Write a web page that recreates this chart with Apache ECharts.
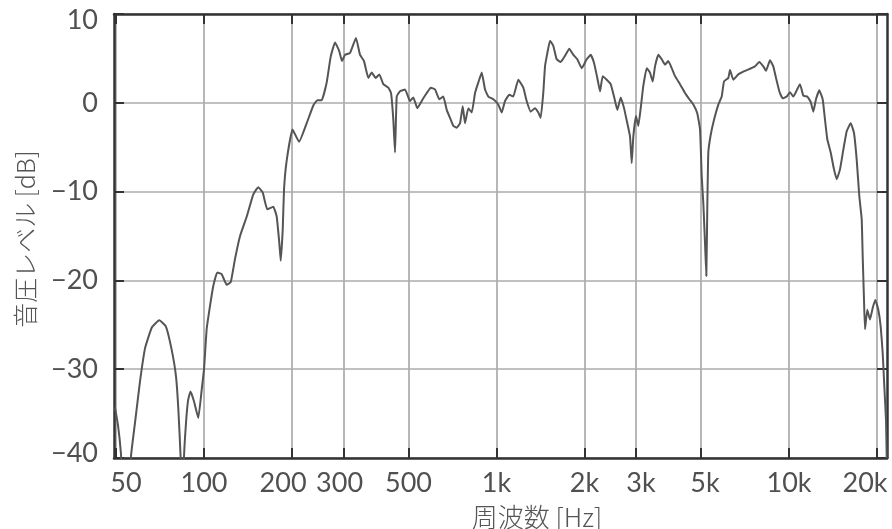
<!DOCTYPE html>
<html>
<head>
<meta charset="utf-8">
<script src="https://cdn.jsdelivr.net/npm/echarts@6/dist/echarts.min.js"></script>
<style>
html,body{margin:0;padding:0;background:#fff;}
#chart{width:892px;height:529px;}
</style>
</head>
<body>
<div id="chart"></div>
<script>
// Frequency (Hz) and level (dB)
const freqHz = [49.6,50.8,52.0,52.9,54.1,55.4,56.2,58.1,60.4,62.9,66.3,70.3,74.1,77.5,80.2,81.7,83.2,84.4,85.4,86.8,88.2,89.9,92.4,95.6,98.2,100,102.1,104.8,107.6,111.0,114.9,119.6,123.4,127.6,132.8,140.0,147.4,153.3,158.7,164.6,172.5,177.2,180.9,182.9,185.8,187.7,191.7,200.7,211.3,224.4,236.4,244.0,252.6,262.7,271.1,280.5,290.1,296.3,303.4,315.6,330.8,341.5,352.4,364.5,374.4,386.4,397.5,410.2,426.7,435.9,443.8,449.8,455.8,467.8,486.6,506.2,519.5,536.1,559.4,577.4,595.8,616.4,637.6,657.9,675.8,697.4,711.9,731.2,750.4,766.5,780.5,801.1,822.8,844.5,866.7,890.2,913.7,937.7,975.1,1014,1042,1069,1106,1141,1187,1235,1268,1309,1354,1390,1416,1445,1465,1492,1524,1564,1606,1658,1715,1774,1831,1889,1956,2034,2099,2154,2211,2259,2307,2381,2457,2522,2588,2659,2729,2800,2861,2899,2936,2999,3054,3112,3176,3263,3348,3420,3483,3575,3672,3768,3867,3972,4077,4240,4411,4563,4709,4859,4964,5031,5094,5163,5216,5257,5299,5400,5542,5733,5888,5995,6201,6285,6450,6709,6978,7315,7651,7914,8168,8344,8611,8837,9027,9265,9516,9821,10079,10344,10625,10904,11191,11549,11863,12108,12368,12693,13037,13276,13519,13886,14252,14558,14941,15334,15750,16254,16681,17039,17392,17724,17864,18048,18190,18522,18920,19327,19727,20198,20583,20910,21175,21460,21580];
const levelDb = [-34.3,-36.3,-39.5,-44,-55,-48,-40,-36.0,-31.4,-27.6,-25.3,-24.5,-25.2,-27.8,-30.8,-34.5,-40,-50,-40,-36,-33.5,-32.5,-33.6,-35.5,-32.3,-30.0,-25.5,-22.9,-20.6,-19.1,-19.3,-20.5,-20.2,-17.6,-15.0,-12.8,-10.3,-9.5,-10.1,-12.0,-11.7,-12.8,-15.8,-17.8,-14.3,-9.8,-6.5,-3.0,-4.4,-2.3,-0.3,0.3,0.3,2.3,5.2,6.8,5.8,4.7,5.4,5.6,7.3,5.4,4.7,2.8,3.4,2.8,3.2,2.1,1.7,1.1,-1.9,-5.6,0.7,1.3,1.5,0.2,0.6,-0.6,0.4,1.1,1.7,1.5,0.4,0.7,-0.8,-1.9,-2.6,-2.8,-2.3,-0.4,-2.3,-0.6,-1.1,1.1,2.3,3.4,1.5,0.7,0.4,-0.2,-1.1,0.2,0.9,0.7,2.6,1.7,0.2,-1.0,-0.6,-1.1,-1.7,1.1,4.1,5.6,7.0,6.4,4.9,4.6,5.3,6.1,5.4,4.9,3.9,4.9,5.4,4.5,2.8,1.3,3.0,2.6,2.1,0.7,-0.8,0.6,-0.6,-2.3,-3.8,-6.8,-3.8,-1.5,-2.6,-0.6,1.9,3.9,3.4,2.4,4.1,5.4,4.9,4.3,4.7,3.9,3.0,2.1,1.1,0.4,-0.2,-1.2,-3.0,-8.3,-11.3,-15.8,-19.5,-11.6,-5.6,-3.6,-1.9,-0.2,0.7,2.4,2.8,3.7,2.6,3.2,3.5,3.8,4.1,4.6,4.1,3.6,4.8,4.1,2.8,1.3,0.5,0.7,1.2,0.7,1.4,2.1,0.8,0.7,0.1,-1.0,0.4,1.4,0.4,-1.9,-4.1,-5.6,-7.5,-8.6,-7.5,-5.3,-3.2,-2.3,-3.4,-6.4,-10.5,-13.1,-17.3,-22.2,-25.5,-23.3,-24.4,-23.1,-22.2,-23.3,-25.2,-28.2,-31.9,-35.7,-40];
const tickHz = [50,100,200,300,500,1000,2000,3000,5000,10000,20000];
const tickLabels = ['50','100','200','300','500','1k','2k','3k','5k','10k','20k'];
const yMin = -40, yMax = 10, yStep = 10;
const fMin = 49.23, fMax = 21630;

const chart = echarts.init(document.getElementById('chart'), null, {renderer:'canvas'});
const tickLog = tickHz.map(v => Math.log10(v));
const seriesData = freqHz.map((f, i) => [Math.log10(f), levelDb[i]]);

const FONT = 'Lato';
const LCOL = '#505050';
const FW = 'normal';
const xShift = {'50':[0,0,0,20],'200':[0,18,0,0],'300':[0,8,0,0],'3k':[0,0,0,10],'5k':[0,0,0,8],'20k':[0,24,0,0]};
const xRich = {};
tickLabels.forEach((t, i) => {
  xRich['t' + i] = {fontSize: 27, fontFamily: FONT, fontWeight: FW, color: LCOL, padding: xShift[t] || [0,0,0,0]};
});
const yRich = {
  top: {fontSize: 27, fontFamily: FONT, fontWeight: FW, color: LCOL, padding: [13,0,0,0]},
  bot: {fontSize: 27, fontFamily: FONT, fontWeight: FW, color: LCOL, padding: [0,0,10,0]},
  n: {fontSize: 27, fontFamily: FONT, fontWeight: FW, color: LCOL, padding: [0,0,0,0]}
};

const frameLine = {show: true, onZero: false, lineStyle: {color: '#333', width: 2.5}};
const tickStyle = {show: true, inside: true, length: 10, lineStyle: {color: '#333', width: 2}};

function nearestIdx(v) {
  let best = 0, bd = Infinity;
  tickLog.forEach((t, i) => { const d = Math.abs(t - v); if (d < bd) { bd = d; best = i; } });
  return best;
}

chart.setOption({
  animation: false,
  backgroundColor: '#fff',
  grid: {left: 114, right: 5, top: 14, bottom: 71, containLabel: false},
  xAxis: [{
    type: 'value', min: Math.log10(fMin), max: Math.log10(fMax), position: 'bottom',
    axisLine: frameLine,
    axisTick: Object.assign({customValues: tickLog}, tickStyle),
    axisLabel: {
      customValues: tickLog, margin: 12,
      formatter: v => { const i = nearestIdx(v); return '{t' + i + '|' + tickLabels[i] + '}'; },
      rich: xRich
    },
    splitLine: {show: true, lineStyle: {color: '#ababab', width: 1.7}}
  }, {
    type: 'value', min: Math.log10(fMin), max: Math.log10(fMax), position: 'top',
    axisLine: frameLine,
    axisTick: Object.assign({customValues: tickLog}, tickStyle),
    axisLabel: {show: false},
    splitLine: {show: false}
  }],
  yAxis: [{
    type: 'value', min: yMin, max: yMax, interval: yStep, position: 'left',
    axisLine: frameLine,
    axisTick: tickStyle,
    axisLabel: {
      margin: 16,
      formatter: v => {
        const s = String(v).replace('-', '\u2212');
        const k = v === yMax ? 'top' : (v === yMin ? 'bot' : 'n');
        return '{' + k + '|' + s + '}';
      },
      rich: yRich
    },
    splitLine: {show: true, lineStyle: {color: '#ababab', width: 1.7}}
  }, {
    type: 'value', min: yMin, max: yMax, interval: yStep, position: 'right',
    axisLine: frameLine,
    axisTick: tickStyle,
    axisLabel: {show: false},
    splitLine: {show: false}
  }],
  graphic: [{
    type: 'text', x: 25, y: 239, rotation: Math.PI / 2,
    style: {text: '音圧レベル [dB]', fontSize: 25, fontFamily: 'Noto Sans CJK JP', fontWeight: 300, fill: '#555', align: 'center', verticalAlign: 'middle'}
  }, {
    type: 'text', x: 537, y: 517,
    style: {text: '周波数 [Hz]', fontSize: 26, fontFamily: 'Noto Sans CJK JP', fontWeight: 300, fill: '#555', align: 'center', verticalAlign: 'middle'}
  }],
  series: [{
    type: 'line', data: seriesData, showSymbol: false, smooth: 0.12, clip: true,
    lineStyle: {color: '#555', width: 2}
  }]
});
</script>
</body>
</html>
